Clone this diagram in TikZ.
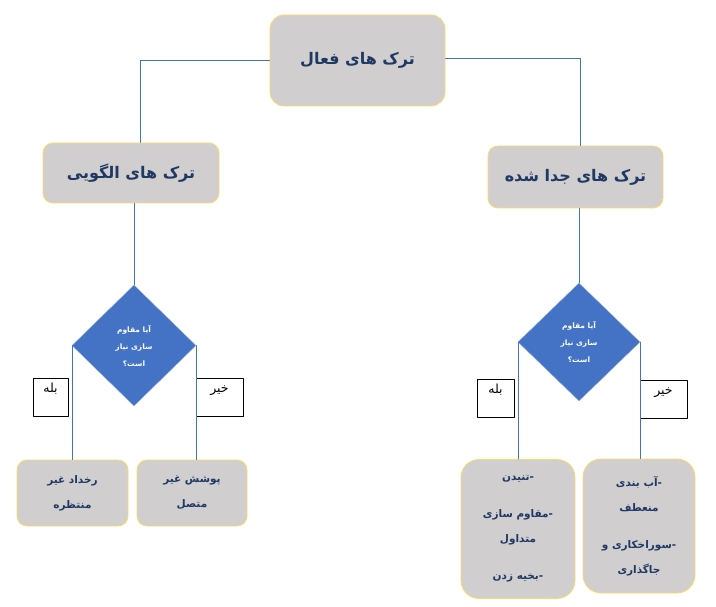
\documentclass[tikz,border=0pt]{standalone}
\usepackage{fontspec}
\newfontfamily\arabicfont[Script=Arabic]{DejaVu Sans}
\TeXXeTstate=1
\usetikzlibrary{shapes.geometric}
\definecolor{boxgray}{HTML}{D0CECE}
\definecolor{boxedge}{HTML}{FFD966}
\definecolor{navy}{HTML}{1F3864}
\definecolor{flowblue}{HTML}{4472C4}
\definecolor{edgeblue}{HTML}{8FAADC}
\newcommand{\rtltext}[1]{\beginR #1\endR}
\newcommand{\rtlitem}[1]{\beginR #1\endR-}

\begin{document}
\begin{tikzpicture}[line cap=round,line join=round,x=1pt,y=-1pt,
  crack/.style={draw=boxedge,fill=boxgray,rounded corners=10pt,line width=0.8pt,text=navy,align=center,inner sep=0pt},
  ask/.style={diamond,aspect=1,draw=edgeblue,fill=flowblue,text=white,align=center,inner sep=0pt,
    font=\arabicfont\bfseries\fontsize{7.5}{17}\selectfont},
  answer/.style={draw=black,fill=white,line width=0.6pt,inner xsep=0pt,inner ysep=3pt,
    text height=11pt,text depth=21pt,font=\arabicfont\fontsize{12.5}{14}\selectfont},
  link/.style={draw=flowblue,line width=0.6pt}]
\useasboundingbox (0,0) rectangle (716,607);
%%boxes
\node[crack,minimum width=175pt,minimum height=91pt,rounded corners=14pt,
  font=\arabicfont\bfseries\fontsize{16}{18}\selectfont] (active) at (357.5,60.5) {\rtltext{ترک های فعال}};
\node[crack,minimum width=176pt,minimum height=60pt,
  font=\arabicfont\bfseries\fontsize{16}{18}\selectfont] (pattern) at (131,173) {\rtltext{ترک های الگویی}};
\node[crack,minimum width=175pt,minimum height=62pt,
  font=\arabicfont\bfseries\fontsize{16}{18}\selectfont] (isolated) at (575.5,177) {\rtltext{ترک های جدا شده}};
%%diamonds
\node[ask,minimum width=124pt,minimum height=121pt] (askL) at (134,345.5) {\rtltext{آیا مقاوم}\\\rtltext{سازی نیاز}\\\rtltext{است؟}};
\node[ask,minimum width=122pt,minimum height=118pt] (askR) at (579,342) {\rtltext{آیا مقاوم}\\\rtltext{سازی نیاز}\\\rtltext{است؟}};
%%yes / no
\node[answer,minimum width=35pt] (yesL) at (50.5,397.5) {\rtltext{بله}};
\node[answer,minimum width=47pt] (noL) at (219.5,397.5) {\rtltext{خیر}};
\node[answer,minimum width=37pt] (yesR) at (495.5,398) {\rtltext{بله}};
\node[answer,minimum width=47pt] (noR) at (663.5,399) {\rtltext{خیر}};
%%bottom row
\node[crack,minimum width=111pt,minimum height=66pt,
  font=\arabicfont\bfseries\fontsize{10.5}{25}\selectfont] (unexpected) at (72.5,493) {\rtltext{رخداد غیر}\\\rtltext{منتظره}};
\node[crack,minimum width=110pt,minimum height=66pt,
  font=\arabicfont\bfseries\fontsize{10.5}{25}\selectfont] (coating) at (192,493) {\rtltext{پوشش غیر}\\\rtltext{متصل}};
\node[crack,minimum width=114pt,minimum height=139pt,rounded corners=18pt,
  font=\arabicfont\bfseries\fontsize{10.5}{25}\selectfont] (methodsA) at (518,529)
  {\rtlitem{تنیدن}\\[12pt]\rtlitem{مقاوم سازی}\\\rtltext{متداول}\\[12pt]\rtlitem{بخیه زدن}};
\node[crack,minimum width=112pt,minimum height=134pt,rounded corners=18pt,
  font=\arabicfont\bfseries\fontsize{10.5}{25}\selectfont] (methodsB) at (639,526)
  {\rtlitem{آب بندی}\\\rtltext{منعطف}\\[12pt]\rtlitem{سوراخکاری و}\\\rtltext{جاگذاری}};
%%lines
\draw[link] (active.west) -| ([xshift=9pt]pattern.north);
\draw[link] ([yshift=2.5pt]active.east) -| ([xshift=4.5pt]isolated.north);
\draw[link] (askL.north |- pattern.south) -- (askL.north);
\draw[link] (askR.north |- isolated.south) -- (askR.north);
\draw[link] (askL.west) -- (askL.west |- unexpected.north);
\draw[link] (askL.east) -- (askL.east |- coating.north);
\draw[link] (askR.west) -- (askR.west |- methodsA.north);
\draw[link] (askR.east) -- (askR.east |- methodsB.north);
\end{tikzpicture}
\end{document}
